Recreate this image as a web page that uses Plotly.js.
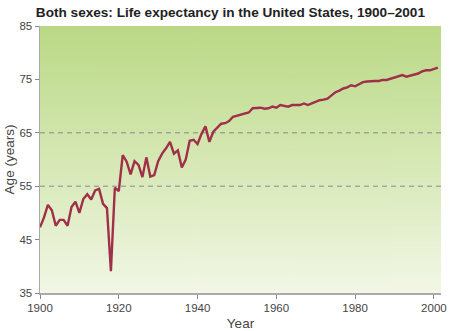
<!DOCTYPE html>
<html>
<head>
<meta charset="utf-8">
<script src="https://cdn.plot.ly/plotly-3.0.1.min.js"></script>
<style>html,body{margin:0;padding:0;background:#fff;}#chart{width:450px;height:331px;}</style>
</head>
<body>
<div id="chart"></div>
<script>
const years = [];
for (let y = 1900; y <= 2001; y++) years.push(y);
const lifeExpectancy = [
  47.3, 49.1, 51.5, 50.5, 47.6, 48.7, 48.7, 47.6, 51.1, 52.1,
  50.0, 52.6, 53.5, 52.5, 54.2, 54.5, 51.7, 50.9, 39.1, 54.7,
  54.1, 60.8, 59.6, 57.2, 59.7, 59.0, 56.7, 60.4, 56.8, 57.1,
  59.7, 61.1, 62.1, 63.3, 61.1, 61.7, 58.5, 60.0, 63.5, 63.7,
  62.9, 64.8, 66.2, 63.3, 65.2, 65.9, 66.7, 66.8, 67.2, 68.0,
  68.2, 68.4, 68.6, 68.8, 69.6, 69.6, 69.7, 69.5, 69.6, 69.9,
  69.7, 70.2, 70.1, 69.9, 70.2, 70.2, 70.2, 70.5, 70.2, 70.5,
  70.8, 71.1, 71.2, 71.4, 72.0, 72.6, 72.9, 73.3, 73.5, 73.9,
  73.7, 74.1, 74.5, 74.6, 74.7, 74.7, 74.7, 74.9, 74.9, 75.1,
  75.4, 75.5, 75.8, 75.5, 75.7, 75.8, 76.1, 76.5, 76.7, 76.7,
  77.0, 77.2
];
const xTicks = [1900, 1920, 1940, 1960, 1980, 2000];
const yTicks = [35, 45, 55, 65, 75, 85];
const refLines = [55, 65];

// gradient background image
const cv = document.createElement('canvas');
cv.width = 4; cv.height = 256;
const ctx = cv.getContext('2d');
const g = ctx.createLinearGradient(0, 0, 0, 256);
g.addColorStop(0, 'rgb(186,217,134)');
g.addColorStop(0.5, 'rgb(214,232,180)');
g.addColorStop(1, 'rgb(242,247,230)');
ctx.fillStyle = g; ctx.fillRect(0, 0, 4, 256);
const bgURL = cv.toDataURL();

const font = {family: 'Liberation Sans, Arial, sans-serif', color: '#444', size: 11.5};

Plotly.newPlot('chart', [{
  x: years, y: lifeExpectancy, type: 'scatter', mode: 'lines',
  line: {color: '#a0304a', width: 2.4}, hoverinfo: 'x+y'
}], {
  width: 450, height: 331,
  margin: {l: 40, r: 9, t: 26, b: 38},
  paper_bgcolor: '#fff', plot_bgcolor: 'rgba(0,0,0,0)',
  showlegend: false,
  font: font,
  title: {text: '<b>Both sexes: Life expectancy in the United States, 1900–2001</b>',
    font: {family: 'Liberation Sans, Arial, sans-serif', size: 13.6, color: '#222'},
    x: 0.512, xanchor: 'center', y: 0.978, yanchor: 'top'},
  xaxis: {range: [1900, 2001.8], tickvals: xTicks, ticktext: xTicks.map(String),
    showgrid: false, zeroline: false, showline: true, linecolor: '#aaa', linewidth: 1.5,
    ticks: 'outside', ticklen: 4, tickcolor: '#888', tickfont: font,
    title: {text: 'Year', font: {family: 'Liberation Sans, Arial, sans-serif', size: 13.5, color: '#444'}, standoff: 5}},
  yaxis: {range: [35, 85], tickvals: yTicks, ticktext: yTicks.map(String),
    showgrid: false, zeroline: false, showline: true, linecolor: '#aaa', linewidth: 1.5,
    ticks: 'outside', ticklen: 4, tickcolor: '#888', tickfont: font,
    title: {text: 'Age (years)', font: {family: 'Liberation Sans, Arial, sans-serif', size: 13.5, color: '#444'}, standoff: 1}},
  images: [{source: bgURL, xref: 'paper', yref: 'paper', x: 0, y: 1, sizex: 1, sizey: 1,
    sizing: 'stretch', xanchor: 'left', yanchor: 'top', layer: 'below'}],
  shapes: refLines.map(v => ({type: 'line', xref: 'paper', x0: 0, x1: 1, yref: 'y', y0: v, y1: v,
    line: {color: '#888', width: 1, dash: '5px,4px'}, layer: 'below'}))
}, {displayModeBar: false, staticPlot: true});
</script>
</body>
</html>
